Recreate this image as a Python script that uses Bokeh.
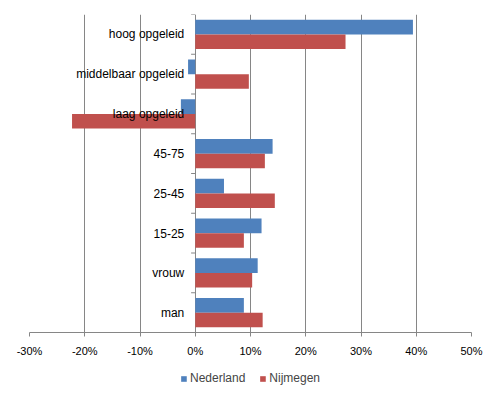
from bokeh.plotting import figure
from bokeh.layouts import column
from bokeh.models import Range1d, FixedTicker, PrintfTickFormatter, Legend, LegendItem, ColumnDataSource
from bokeh.core.properties import value
from bokeh.embed import file_html
from bokeh.resources import INLINE

categories = ["man", "vrouw", "15-25", "25-45", "45-75", "laag opgeleid", "middelbaar opgeleid", "hoog opgeleid"]
nederland = [8.8, 11.3, 12.0, 5.2, 14.0, -2.6, -1.3, 39.4]
nijmegen = [12.2, 10.3, 8.8, 14.4, 12.6, -22.3, 9.7, 27.2]
series_names = ["Nederland", "Nijmegen"]
x_ticks = [-30, -20, -10, 0, 10, 20, 30, 40, 50]

BLUE = "#4F81BD"
RED = "#C0504D"
GRID = "#868686"
FONT = "Liberation Sans"

bh = 0.365
idx = list(range(len(categories)))
centers = [i + 0.5 for i in idx]

src = ColumnDataSource(dict(
    cat=categories,
    c=centers,
    yb=[c + bh / 2 for c in centers],
    yr=[c - bh / 2 for c in centers],
    ned=nederland,
    nij=nijmegen,
    zero=[0] * len(categories),
))

p = figure(width=490, height=360, output_backend="svg", toolbar_location=None,
           x_range=Range1d(x_ticks[0], x_ticks[-1]), y_range=Range1d(0, len(categories)),
           y_axis_location=None, min_border_left=29, min_border_right=19,
           min_border_top=14, min_border_bottom=28)
p.outline_line_color = None
p.background_fill_color = "white"
p.border_fill_color = "white"

p.xgrid.grid_line_color = GRID
p.xgrid.grid_line_width = 1
p.ygrid.visible = False
p.xaxis.ticker = FixedTicker(ticks=x_ticks)
p.xaxis.formatter = PrintfTickFormatter(format="%d%%")
p.xaxis.axis_line_color = GRID
p.xaxis.major_tick_line_color = GRID
p.xaxis.major_tick_out = 4
p.xaxis.major_tick_in = 0
p.xaxis.minor_tick_line_color = None
p.xaxis.major_label_standoff = 8
p.xaxis.major_label_text_font = FONT
p.xaxis.major_label_text_font_size = "11px"
p.xaxis.major_label_text_color = "black"

p.hbar(y="yb", left="zero", right="ned", height=bh, source=src, fill_color=BLUE, line_color=None)
p.hbar(y="yr", left="zero", right="nij", height=bh, source=src, fill_color=RED, line_color=None)

# category boundary ticks on the zero axis
bounds = list(range(1, len(categories) + 1))
p.segment(x0=[-0.75] * len(bounds), x1=[0] * len(bounds), y0=bounds, y1=bounds, line_color=GRID, line_width=1)

p.text(x="zero", y="c", text="cat", source=src, text_align="right", text_baseline="middle",
       x_offset=-11, text_font=value(FONT), text_font_size="12px", text_color="black")

# legend strip below the chart (same bar renderers, drawn outside its visible range)
lg = figure(width=490, height=36, output_backend="svg", toolbar_location=None,
            x_range=Range1d(x_ticks[0], x_ticks[-1]), y_range=Range1d(100, 101),
            x_axis_location=None, y_axis_location=None,
            min_border_left=29, min_border_right=19, min_border_top=0, min_border_bottom=0)
lg.outline_line_color = None
lg.xgrid.visible = False
lg.ygrid.visible = False
lb = lg.hbar(y="yb", left="zero", right="ned", height=bh, source=src, fill_color=BLUE, line_color=None)
lr = lg.hbar(y="yr", left="zero", right="nij", height=bh, source=src, fill_color=RED, line_color=None)
legend = Legend(items=[LegendItem(label=series_names[0], renderers=[lb]),
                       LegendItem(label=series_names[1], renderers=[lr])],
                location="center", orientation="horizontal",
                padding=0, margin=0, spacing=14, glyph_width=7, glyph_height=7,
                label_standoff=3, label_height=12,
                label_text_font=FONT, label_text_font_size="12px",
                border_line_color=None, background_fill_alpha=0)
lg.add_layout(legend, "center")

layout = column(p, lg, spacing=0)
open("out.html", "w").write(file_html(layout, INLINE))
